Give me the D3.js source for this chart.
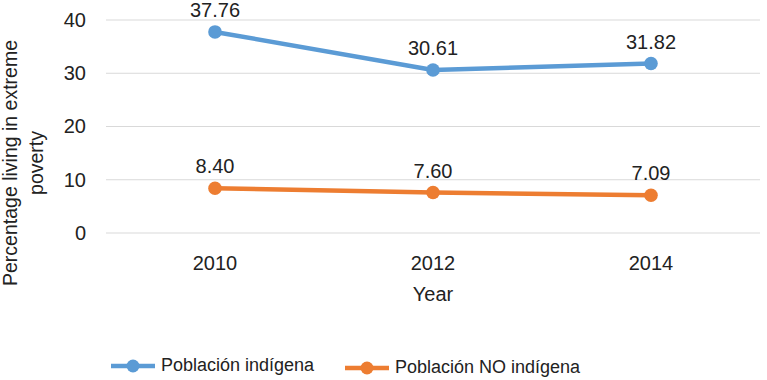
<!DOCTYPE html>
<html>
<head>
<meta charset="utf-8">
<script src="https://cdn.jsdelivr.net/npm/d3@7"></script>
<style>
  body { margin: 0; background: #fff; }
  svg { font-family: "Liberation Sans", Arial, sans-serif; }
</style>
</head>
<body>
<svg id="chart" width="767" height="380"></svg>
<script>
// data
const years = ["2010", "2012", "2014"];
const indigena = [37.76, 30.61, 31.82];
const noIndigena = [8.40, 7.60, 7.09];
const yTicks = [0, 10, 20, 30, 40];
const seriesNames = ["Población indígena", "Población NO indígena"];
const seriesColors = ["#5B9BD5", "#ED7D31"];

const margin = {top: 20, right: 7, bottom: 147, left: 106};
const width = 767 - margin.left - margin.right;
const height = 380 - margin.top - margin.bottom;

const svg = d3.select("#chart");
const chart = svg.append("g")
    .attr("transform", `translate(${margin.left},${margin.top})`);

const xScale = d3.scaleBand().domain(years).range([0, width]);
const yScale = d3.scaleLinear().domain([0, 40]).range([height, 0]);

// gridlines
chart.append("g")
    .selectAll("line")
    .data(yTicks)
    .join("line")
    .attr("x1", 0).attr("x2", width)
    .attr("y1", d => yScale(d)).attr("y2", d => yScale(d))
    .attr("stroke", "#d9d9d9").attr("stroke-width", 1);

// y axis
const yAxisG = chart.append("g")
    .call(d3.axisLeft(yScale).tickValues(yTicks).tickSize(0).tickPadding(20));
yAxisG.select(".domain").remove();
yAxisG.selectAll("text").attr("font-size", 20).attr("fill", "#222");

// x axis
const xAxisG = chart.append("g")
    .attr("transform", `translate(0,${height})`)
    .call(d3.axisBottom(xScale).tickSize(0).tickPadding(23));
xAxisG.select(".domain").remove();
xAxisG.selectAll("text").attr("font-size", 20).attr("fill", "#222");

// axis titles
svg.append("text")
    .attr("x", margin.left + width / 2).attr("y", 301)
    .attr("text-anchor", "middle")
    .attr("font-size", 20).attr("fill", "#222")
    .text("Year");

const yTitle = svg.append("text")
    .attr("transform", "translate(17,163) rotate(-90)")
    .attr("text-anchor", "middle")
    .attr("font-size", 19.5).attr("fill", "#222");
yTitle.append("tspan").attr("x", 0).attr("dy", 0).text("Percentage living in extreme");
yTitle.append("tspan").attr("x", 0).attr("dy", 26).text("poverty");

// lines
const series = [indigena, noIndigena];
const line = d3.line()
    .x((d, i) => xScale(years[i]) + xScale.bandwidth() / 2)
    .y(d => yScale(d));

series.forEach((vals, s) => {
  chart.append("path")
      .datum(vals)
      .attr("d", line)
      .attr("fill", "none")
      .attr("stroke", seriesColors[s])
      .attr("stroke-width", 4.5)
      .attr("stroke-linejoin", "round");

  chart.selectAll(".pt" + s)
      .data(vals)
      .join("circle")
      .attr("class", "pt" + s)
      .attr("cx", (d, i) => xScale(years[i]) + xScale.bandwidth() / 2)
      .attr("cy", d => yScale(d))
      .attr("r", 6.8)
      .attr("fill", seriesColors[s]);

  chart.selectAll(".lbl" + s)
      .data(vals)
      .join("text")
      .attr("class", "lbl" + s)
      .attr("x", (d, i) => xScale(years[i]) + xScale.bandwidth() / 2)
      .attr("y", d => yScale(d) - 15)
      .attr("text-anchor", "middle")
      .attr("font-size", 20).attr("fill", "#222")
      .text(d => d.toFixed(2));
});

// legend
const legendX = [111, 345];
const legend = svg.append("g");
seriesNames.forEach((name, s) => {
  const g = legend.append("g").attr("transform", `translate(${legendX[s]},${366 + s * 2})`);
  g.append("line").attr("x1", 0).attr("x2", 44).attr("y1", 0).attr("y2", 0)
      .attr("stroke", seriesColors[s]).attr("stroke-width", 4.5);
  g.append("circle").attr("cx", 22).attr("cy", 0).attr("r", 6.5).attr("fill", seriesColors[s]);
  g.append("text").attr("x", 50).attr("y", 5)
      .attr("font-size", 18).attr("fill", "#222").text(name);
});
</script>
</body>
</html>
